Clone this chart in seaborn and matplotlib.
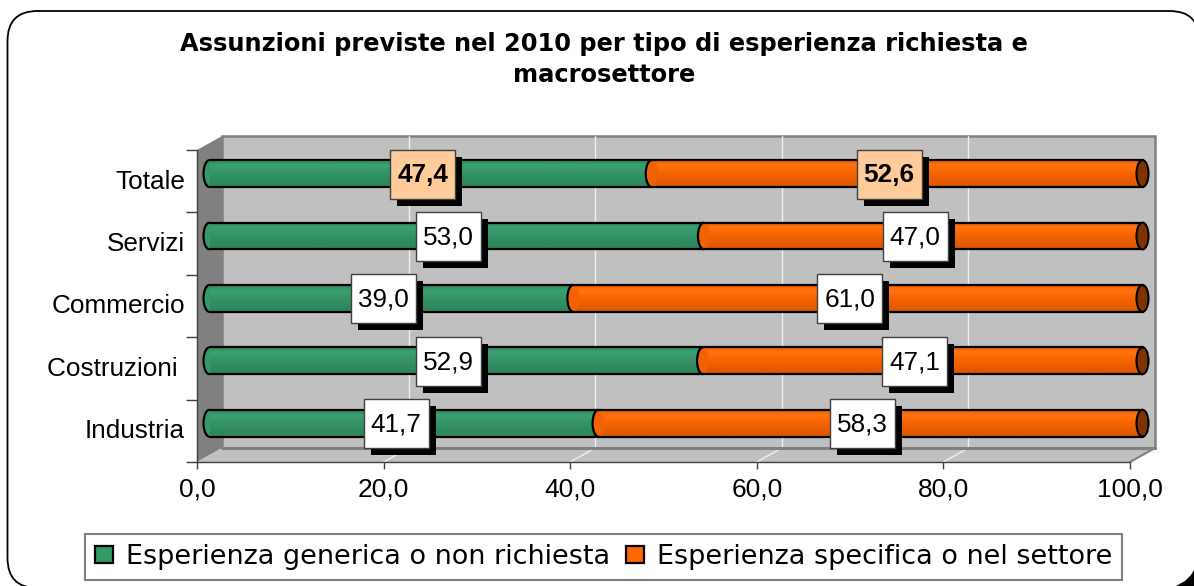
import numpy as np
import seaborn as sns
import matplotlib.pyplot as plt
from matplotlib.patches import Arc, Ellipse, FancyBboxPatch, Patch, Polygon, Rectangle
from matplotlib.transforms import Affine2D, IdentityTransform, ScaledTranslation

# Chart data
categories = ['Totale', 'Servizi', 'Commercio', 'Costruzioni ', 'Industria']
generica = [47.4, 53.0, 39.0, 52.9, 41.7]
specifica = [52.6, 47.0, 61.0, 47.1, 58.3]
x_ticks = [0, 20, 40, 60, 80, 100]
series_names = ['Esperienza generica o non richiesta', 'Esperienza specifica o nel settore']
title = 'Assunzioni previste nel 2010 per tipo di esperienza richiesta e\nmacrosettore'

W, H = 1194, 586
GREEN, ORANGE = '#339966', '#FF6600'
GRAY, WALL = '#808080', '#C0C0C0'
BAR_H = 0.43
FONT = 18.8


def comma(v):
    return f'{v:.1f}'.replace('.', ',')


def px(x, y):
    # picture pixels, measured from the top left corner
    return (x, H - y)


def rgb(colors):
    return np.array([[[int(c[i:i + 2], 16) / 255 for i in (1, 3, 5)]] for c in colors])


sns.set_theme(style='white')
plt.rcParams['font.family'] = ['Liberation Sans', 'DejaVu Sans']

fig = plt.figure(figsize=(W / 100, H / 100), dpi=100, facecolor='white')
ident = IdentityTransform()

# Rounded outer frame, it runs off the picture on the right and at the bottom
fig.add_artist(FancyBboxPatch(px(7.5, 588), 1192, 577, boxstyle='round,pad=0,rounding_size=30',
                              facecolor='white', edgecolor='black', linewidth=1.3, transform=ident,
                              zorder=-2))
fig.add_artist(Polygon([px(1176, 586), px(1185, 581), px(1191, 575), px(1194, 570), px(1194, 586)],
                       facecolor='black', edgecolor='none', transform=ident, zorder=-1))

ax = fig.add_axes([197 / W, (H - 462) / H, 933 / W, 312 / H])
ax.patch.set_alpha(0)

total = np.array(generica) + np.array(specifica)
sns.barplot(x=total, y=categories, color=ORANGE, saturation=1, orient='h', width=BAR_H,
            linewidth=0, errorbar=None, ax=ax)
sns.barplot(x=generica, y=categories, color=GREEN, saturation=1, orient='h', width=BAR_H,
            linewidth=0, errorbar=None, ax=ax)
ax.set_xlim(0, 100)
ax.set_ylim(4.5, -0.5)

# The 3D look: bars sit half way into the box, the wall at its back
mid = ax.transData + Affine2D().translate(12.5, 7.6)
back = ax.transData + Affine2D().translate(25, 14)


def front(x, y, dx=0, dy=0):
    p = ax.transData.transform((x, y))
    return (p[0] + dx, p[1] + dy)


ax.add_patch(Rectangle((0, -0.5), 100, 5, transform=back, facecolor=WALL, edgecolor=GRAY,
                       linewidth=1.8, clip_on=False, zorder=0.1))
ax.add_patch(Polygon([front(0, -0.5), front(0, -0.5, 25, 14), front(0, 4.5, 25, 14), front(0, 4.5)],
                     transform=ident, facecolor=GRAY, edgecolor='none', clip_on=False, zorder=0.2))
ax.add_patch(Polygon([front(0, 4.5), front(0, 4.5, 25, 14), front(100, 4.5, 25, 14), front(100, 4.5)],
                     transform=ident, facecolor=WALL, edgecolor='none', clip_on=False, zorder=0.2))
ax.plot([front(0, 4.5, 25, 14)[0], front(100, 4.5, 25, 14)[0]], [front(0, 4.5, 25, 14)[1]] * 2,
        transform=ident, color=GRAY, linewidth=2.2, clip_on=False, zorder=0.3)
ax.plot([front(100, 4.5)[0], front(100, 4.5, 25, 14)[0]], [front(100, 4.5)[1], front(100, 4.5, 25, 14)[1]],
        transform=ident, color=GRAY, linewidth=1.5, clip_on=False, zorder=0.3)
for t in x_ticks[1:-1]:
    ax.plot([t, t], [-0.5, 4.5], transform=back, color='#F0F0F0', linewidth=1, clip_on=False, zorder=0.25)
    a, b = front(t, 4.5), front(t, 4.5, 25, 14)
    ax.plot([a[0], b[0]], [a[1], b[1]], transform=ident, color='#F0F0F0', linewidth=1, clip_on=False, zorder=0.25)

# Cylinder shading and end caps, taken from the seaborn bars
orange_bars, green_bars = ax.containers[0], ax.containers[1]
shade_green = rgb(['#2F8F5F', '#3BA070', '#3A9C6C', '#35946A', '#339164', '#308C5F', '#2E895C', '#2D865A'])
shade_orange = rgb(['#F56200', '#FF7414', '#FF6C08', '#FA6600', '#F26200', '#EA5E00', '#E45B00', '#DE5800'])
cap_w = 12 / (933 / 100)

for i in range(len(categories)):
    o, g = orange_bars[i], green_bars[i]
    o.set_transform(mid)
    g.set_transform(mid)
    o.set_clip_on(False)
    g.set_clip_on(False)
    o.set_zorder(2)
    g.set_zorder(2.2)
    y0, y1 = o.get_y(), o.get_y() + o.get_height()
    yc = (y0 + y1) / 2
    ax.imshow(shade_orange, extent=(0, o.get_width(), y1, y0), aspect='auto', transform=mid,
              clip_on=False, zorder=2.1, interpolation='bilinear')
    ax.imshow(shade_green, extent=(0, g.get_width(), y1, y0), aspect='auto', transform=mid,
              clip_on=False, zorder=2.3, interpolation='bilinear')
    # left end of the green part
    ax.add_patch(Ellipse((0, yc), cap_w, BAR_H, transform=mid, facecolor=GREEN, edgecolor='none',
                         clip_on=False, zorder=1.5))
    ax.add_patch(Arc((0, yc), cap_w, BAR_H, theta1=90, theta2=270, transform=mid, edgecolor='black',
                     linewidth=1.6, clip_on=False, zorder=3))
    # joint between green and orange
    ax.add_patch(Ellipse((g.get_width(), yc), cap_w, BAR_H, transform=mid, facecolor='#F26200',
                         edgecolor='none', clip_on=False, zorder=2.4))
    ax.add_patch(Arc((g.get_width(), yc), cap_w, BAR_H, theta1=90, theta2=270, transform=mid,
                     edgecolor='black', linewidth=1.6, clip_on=False, zorder=3))
    # top and bottom outline
    ax.plot([0, o.get_width()], [y0, y0], transform=mid, color='black', linewidth=1.6, clip_on=False, zorder=3)
    ax.plot([0, o.get_width()], [y1, y1], transform=mid, color='black', linewidth=1.6, clip_on=False, zorder=3)
    # far end of the orange part
    ax.add_patch(Ellipse((o.get_width(), yc), cap_w, BAR_H, transform=mid, facecolor='#803300',
                         edgecolor='black', linewidth=1.5, clip_on=False, zorder=3.2))

    # value boxes with their hard shadow, Totale is highlighted
    face = '#FFCC99' if i == 0 else 'white'
    weight = 'bold' if i == 0 else 'normal'
    for centre, val in ((g.get_width() / 2, generica[i]), (g.get_width() + specifica[i] / 2, specifica[i])):
        here = ScaledTranslation(centre, yc, ax.transData)
        anchor = Affine2D().translate(4.5, 7) + here
        ax.add_patch(Rectangle((-32.5 + 7, -24.5 - 7), 65, 49, transform=anchor, facecolor='black',
                               edgecolor='none', clip_on=False, zorder=4))
        ax.add_patch(Rectangle((-32.5, -24.5), 65, 49, transform=anchor, facecolor=face,
                               edgecolor='#404040', linewidth=1, clip_on=False, zorder=4.1))
        ax.text(0, -1, comma(val), transform=anchor, ha='center', va='center', fontsize=FONT,
                fontweight=weight, color='black', zorder=4.2)

ax.set_xlim(0, 100)
ax.set_ylim(4.5, -0.5)

# Axes
ax.set_xlabel('')
ax.set_ylabel('')
ax.set_xticks(x_ticks)
ax.set_xticklabels([comma(t) for t in x_ticks], fontsize=FONT + 0.2, color='black')
ax.set_yticks(np.arange(-0.5, 5), minor=True)
ax.tick_params(axis='y', which='major', length=0, pad=9.5, labelsize=FONT, labelcolor='black')
ax.tick_params(axis='y', which='minor', length=8, width=1, color='#404040', left=True)
ax.tick_params(axis='x', which='major', length=5, width=1, color='#404040', bottom=True, pad=6)
for lab in ax.get_yticklabels():
    lab.set_transform(lab.get_transform() + Affine2D().translate(1, 2))
sns.despine(ax=ax, top=True, right=True)
for side in ('left', 'bottom'):
    ax.spines[side].set_color('#404040')
    ax.spines[side].set_linewidth(1)
    ax.spines[side].set_zorder(1)

# Title and legend, DejaVu gets near the wide spacing of the original
fig.text(604 / W, (H - 59.5) / H, title, ha='center', va='center', fontsize=17.35, fontweight='bold',
         family=['DejaVu Sans'], color='black', linespacing=1.42)
handles = [Patch(facecolor=GREEN, edgecolor='black', linewidth=1.6),
           Patch(facecolor=ORANGE, edgecolor='black', linewidth=1.6)]
leg = ax.legend(handles, series_names, loc='center', bbox_to_anchor=px(603.5, 557), bbox_transform=ident,
                ncol=2, frameon=True, fancybox=False, framealpha=1, edgecolor=GRAY,
                prop={'family': ['DejaVu Sans'], 'size': 19.45}, labelcolor='black',
                handlelength=0.68, handleheight=0.58, handletextpad=0.45, columnspacing=0.6,
                borderpad=0.36, borderaxespad=0)
leg.get_frame().set_linewidth(1.5)
leg.set_zorder(5)

fig.savefig('out.png', dpi=100)
